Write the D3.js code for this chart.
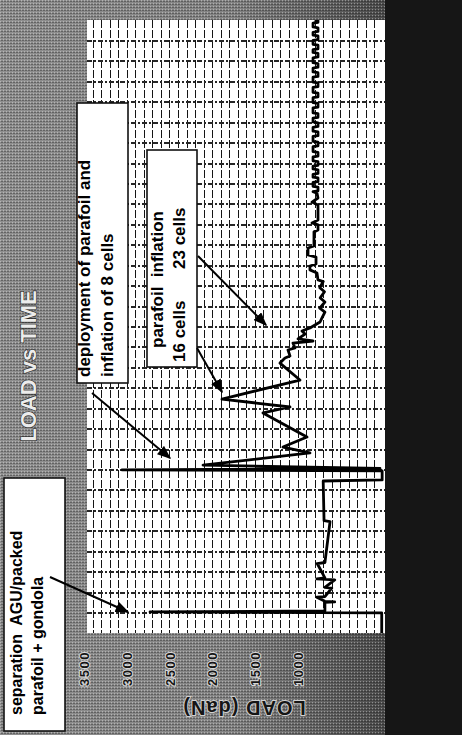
<!DOCTYPE html>
<html>
<head>
<meta charset="utf-8">
<title>LOAD vs TIME</title>
<script src="https://cdn.jsdelivr.net/npm/d3@7"></script>
<style>
  html, body { margin: 0; padding: 0; background: #8a8a8a; overflow: hidden; }
  #chart { display: block; }
  text { font-family: "Liberation Sans", Arial, sans-serif; font-weight: bold; white-space: pre; }
</style>
</head>
<body>
<svg id="chart" width="462" height="735"></svg>
<script>

/**********************
***** DATA *****
**********************/

// load axis labels (daN)
const loadTicks = [1000, 1500, 2000, 2500, 3000, 3500];

// phase 1: separation AGU / packed parafoil + gondola, hang under the packed parafoil
const sepTime = [0, 0.98, 1.03, 1.08, 1.5, 1.52, 1.55, 1.75, 1.78, 2.2, 2.23, 2.6, 2.65, 2.7,
                 3.4, 3.45, 5.45, 5.5, 7.4];
const sepLoad = [15, 15, 2727, 680, 680, 565, 680, 775, 680, 600, 680, 565, 775, 680,
                 770, 680, 620, 690, 700];

// phase 2: deployment of parafoil, inflation of 8 / 16 / 23 cells
const deployTime = [7.44, 7.49, 7.93, 7.98, 8.05, 8.22, 8.81, 9.10, 9.59, 10.77, 11.06, 11.45,
                    12.38, 13.21, 13.46, 13.56, 13.85, 13.95, 14.19, 14.29, 14.39, 14.63, 14.78,
                    14.93, 15.22, 15.42, 15.7, 15.9, 16.2, 16.4, 16.7, 16.9, 17.2];
const deployLoad = [700, 10, 10, 3055, 35, 2107, 855, 1171, 890, 1405, 1089, 1885,
                    972, 1206, 1147, 1089, 1112, 1030, 1054, 819, 995, 913, 948,
                    855, 737, 714, 680, 740, 680, 735, 685, 740, 700];

// phase 3: gliding under the inflated parafoil
const glideTime = [17.28, 17.62, 17.77, 17.96, 18.06, 18.40, 18.50, 18.84, 18.94, 19.63, 19.72,
                   19.97, 20.07, 20.21, 20.95, 21.09, 21.29, 21.53,
                   21.6, 21.64, 21.82, 21.86, 22.05, 22.09, 22.27, 22.31,
                   22.45, 22.49, 22.67, 22.71, 22.85, 22.89, 23.07, 23.11,
                   23.3, 23.34, 23.52, 23.56, 23.8, 23.84, 24.02, 24.06,
                   24.3, 24.34, 24.52, 24.56, 24.75, 24.79, 24.97, 25.01,
                   25.2, 25.24, 25.42, 25.46, 25.7, 25.74, 25.92, 25.96,
                   26.2, 26.24, 26.42, 26.46, 26.7, 26.74, 26.92, 26.96,
                   27.2, 27.24, 27.42, 27.46, 27.65, 27.69, 27.87, 27.91,
                   28.15, 28.19, 28.37, 28.41, 28.55, 28.59, 28.77, 28.81,
                   29.0, 29.04, 29.22, 29.26, 29.4, 29.44, 29.62, 29.66,
                   29.85, 29.89, 29.97, 30];
const glideLoad = [761, 773, 855, 855, 784, 784, 878, 878, 808, 808, 761,
                   761, 831, 761, 761, 831, 761, 773,
                   819, 761, 761, 819, 819, 761, 761, 819,
                   819, 761, 761, 819, 819, 761, 761, 819,
                   819, 761, 761, 819, 819, 761, 761, 819,
                   819, 761, 761, 819, 819, 761, 761, 819,
                   819, 761, 761, 819, 819, 761, 761, 819,
                   819, 761, 761, 819, 819, 761, 761, 819,
                   819, 761, 761, 819, 819, 761, 761, 819,
                   819, 761, 761, 819, 819, 761, 761, 819,
                   819, 761, 761, 819, 819, 761, 761, 819,
                   819, 761, 761, 800];

const flight = [
    ...sepTime.map((t, i) => ({t: t, load: sepLoad[i]})),
    ...deployTime.map((t, i) => ({t: t, load: deployLoad[i]})),
    ...glideTime.map((t, i) => ({t: t, load: glideLoad[i]}))
];


/**********************
***** BASIC SETUP *****
**********************/

const width = 462;
const height = 735;
// the printed chart is turned a quarter turn: load runs left-right, time runs bottom-up
const plot = {left: 87, right: 385, top: 20, bottom: 633};

const svg = d3.select("#chart");
const defs = svg.append("defs");

const xLoad = d3.scaleLinear()
    .domain([0, 3500])
    .range([383, 84]);

const yTime = d3.scaleLinear()
    .domain([0, 30])
    .range([plot.bottom, plot.top]);


/**************************
***** PAPER / BACKDROP *****
**************************/

const shade = defs.append("linearGradient")
    .attr("id", "bgShade")
    .attr("gradientUnits", "userSpaceOnUse")
    .attr("x1", 0).attr("x2", plot.right)
    .attr("y1", 0).attr("y2", 0);
shade.append("stop").attr("offset", 0).attr("stop-color", "#8f8f8f");
shade.append("stop").attr("offset", 0.6).attr("stop-color", "#838383");
shade.append("stop").attr("offset", 1).attr("stop-color", "#4c4c4c");

const halftone = defs.append("pattern")
    .attr("id", "halftone")
    .attr("width", 3).attr("height", 3)
    .attr("patternUnits", "userSpaceOnUse");
halftone.append("rect").attr("x", 0).attr("y", 0).attr("width", 1).attr("height", 1)
    .attr("fill", "#fff").attr("opacity", 0.35);
halftone.append("rect").attr("x", 1).attr("y", 1).attr("width", 2).attr("height", 1)
    .attr("fill", "#000").attr("opacity", 0.3);

svg.append("rect").attr("width", width).attr("height", height).attr("fill", "url(#bgShade)");
svg.append("rect").attr("width", width).attr("height", height).attr("fill", "url(#halftone)");
svg.append("rect")
    .attr("x", plot.right).attr("y", 0)
    .attr("width", width - plot.right).attr("height", height)
    .attr("fill", "#161616");

// white plotting area
svg.append("rect")
    .attr("x", plot.left).attr("y", plot.top)
    .attr("width", plot.right - plot.left)
    .attr("height", plot.bottom - plot.top)
    .attr("fill", "#fff");

defs.append("clipPath").attr("id", "plotClip")
    .append("rect")
    .attr("x", plot.left).attr("y", plot.top)
    .attr("width", plot.right - plot.left)
    .attr("height", plot.bottom - plot.top);


/********************
***** GRIDLINES *****
********************/

svg.append("g")
    .attr("class", "xGrid")
    .attr("transform", `translate(0, ${plot.top})`)
    .call(d3.axisBottom(xLoad)
        .ticks(35)
        .tickSize(plot.bottom - plot.top)
        .tickFormat(""))
    .call(g => g.select(".domain").remove())
    .call(g => g.selectAll(".tick").filter(d => d <= 0 || d >= 3500).remove())
    .selectAll("line")
        .attr("stroke", "#141414")
        .attr("stroke-width", 1)
        .attr("shape-rendering", "crispEdges")
        .attr("stroke-dasharray", "8,2");

svg.append("g")
    .attr("class", "yGrid")
    .attr("transform", `translate(${plot.left}, 0)`)
    .call(d3.axisLeft(yTime)
        .ticks(30)
        .tickSize(-(plot.right - plot.left))
        .tickFormat(""))
    .call(g => g.select(".domain").remove())
    .call(g => g.selectAll(".tick").filter(d => d <= 0 || d >= 30).remove())
    .selectAll("line")
        .attr("stroke", "#262626")
        .attr("stroke-width", 2)
        .attr("shape-rendering", "crispEdges")
        .attr("stroke-dasharray", "5,2,2,2");


/*****************
***** LOAD AXIS *****
*****************/

svg.append("g")
    .attr("class", "xAxis")
    .attr("transform", `translate(0, ${plot.bottom})`)
    .call(d3.axisBottom(xLoad)
        .tickValues(loadTicks)
        .tickSize(0)
        .tickFormat(d3.format("d")))
    .call(g => g.select(".domain").remove())
    .selectAll("text")
        .attr("transform", "rotate(-90)")
        .attr("x", -18)
        .attr("y", 0)
        .attr("dy", "0.36em")
        .attr("text-anchor", "end")
        .style("font-size", "13px")
        .style("letter-spacing", "1.5px")
        .style("fill", "#151515")
        .style("stroke", "#d8d8d8")
        .style("stroke-width", 2)
        .style("paint-order", "stroke");

// axis title, upside down after the quarter turn
svg.append("text")
    .attr("class", "yLabel")
    .attr("transform", "translate(244, 708) rotate(180)")
    .attr("text-anchor", "middle")
    .attr("dominant-baseline", "central")
    .style("font-size", "20px")
    .style("letter-spacing", "1px")
    .style("fill", "#151515")
    .style("stroke", "#d0d0d0")
    .style("stroke-width", 2)
    .style("paint-order", "stroke")
    .text("LOAD (daN)");

// chart title
svg.append("text")
    .attr("class", "chartTitle")
    .attr("transform", "translate(28, 366) rotate(-90)")
    .attr("text-anchor", "middle")
    .attr("dominant-baseline", "central")
    .style("font-size", "22px")
    .style("fill", "#ececec")
    .style("stroke", "#222")
    .style("stroke-width", 1.2)
    .style("paint-order", "stroke")
    .text("LOAD vs TIME");


/*********************
***** LOAD CURVE *****
*********************/

const loadLine = d3.line()
    .x(d => xLoad(d.load))
    .y(d => yTime(d.t));

svg.append("path")
    .datum(flight)
    .attr("clip-path", "url(#plotClip)")
    .attr("d", loadLine)
    .attr("fill", "none")
    .attr("stroke", "#000")
    .attr("stroke-width", 2.8)
    .attr("stroke-linejoin", "round");


/**********************
***** ANNOTATIONS *****
**********************/

defs.append("marker")
    .attr("id", "head")
    .attr("viewBox", "0 0 10 8")
    .attr("refX", 9)
    .attr("refY", 4)
    .attr("markerWidth", 14)
    .attr("markerHeight", 11)
    .attr("markerUnits", "userSpaceOnUse")
    .attr("orient", "auto")
    .append("path")
    .attr("d", "M0,0L10,4L0,8Z")
    .attr("fill", "#000");

const notes = svg.append("g").attr("class", "notes");

function noteBox(x, y, w, h) {
    notes.append("rect")
        .attr("x", x).attr("y", y)
        .attr("width", w).attr("height", h)
        .attr("fill", "#fff")
        .attr("stroke", "#111")
        .attr("stroke-width", 1.6);
}

// text that reads bottom-up; (x, y) = baseline x, starting y
function upText(x, y, str, size) {
    notes.append("text")
        .attr("transform", `translate(${x}, ${y}) rotate(-90)`)
        .attr("text-anchor", "start")
        .style("font-size", size + "px")
        .style("fill", "#000")
        .text(str);
}

function arrow(x1, y1, x2, y2) {
    notes.append("line")
        .attr("x1", x1).attr("y1", y1)
        .attr("x2", x2).attr("y2", y2)
        .attr("stroke", "#000")
        .attr("stroke-width", 2)
        .attr("marker-end", "url(#head)");
}

noteBox(4, 478, 61, 253);
upText(22, 715, "separation  AGU/packed", 16);
upText(43, 715, "parafoil + gondola", 16);

noteBox(77, 103, 51, 280);
upText(90, 377, "deployment of parafoil and", 17);
upText(113, 377, "inflation of 8 cells", 17);

noteBox(147, 150, 50, 217);
upText(163, 348, "parafoil  inflation", 17);
upText(185, 362, "16 cells", 17);
upText(185, 269, "23 cells", 17);

arrow(50, 577, 128, 612);
arrow(92, 393, 170, 458);
arrow(197, 348, 222, 392);
arrow(198, 256, 266, 325);

</script>
</body>
</html>
